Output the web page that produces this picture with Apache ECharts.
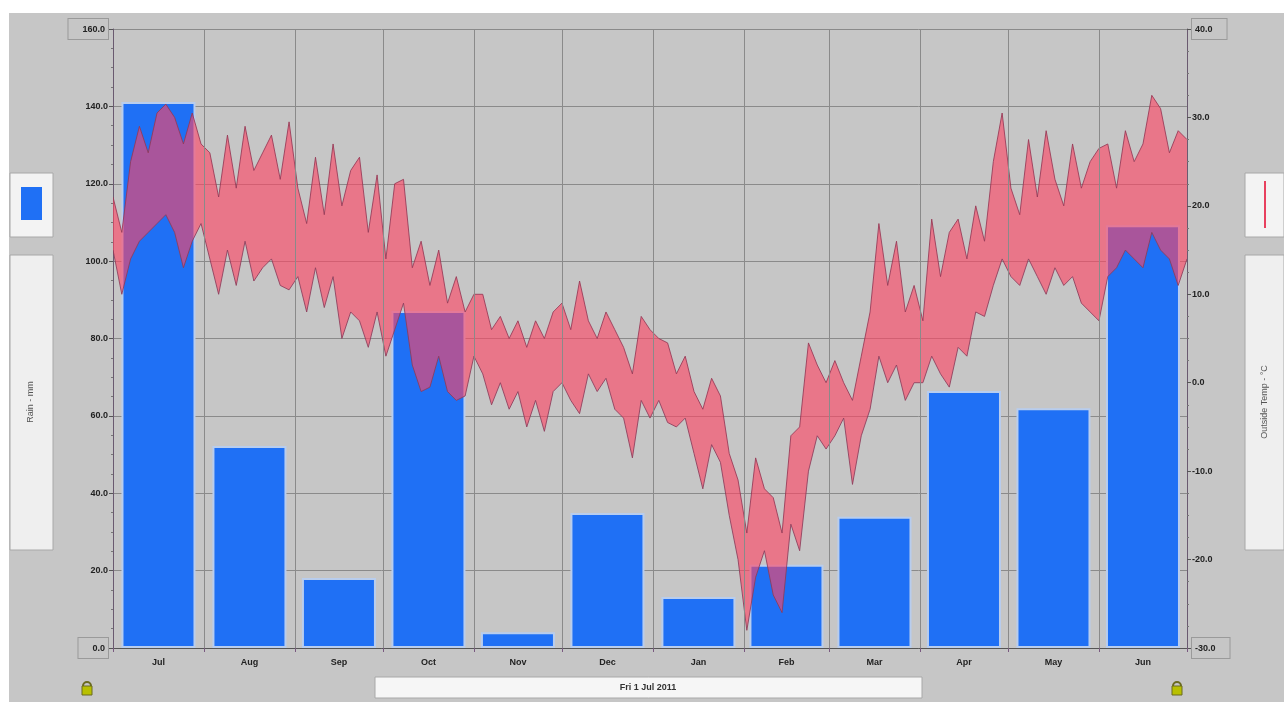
<!DOCTYPE html>
<html>
<head>
<meta charset="utf-8">
<title>Rain and Outside Temperature</title>
<script src="https://cdn.jsdelivr.net/npm/echarts@6/dist/echarts.min.js"></script>
<style>
  html, body { margin: 0; padding: 0; background: #ffffff; }
  #chart { width: 1284px; height: 702px; }
</style>
</head>
<body>
<div id="chart"></div>
<script>
// Months of the season, July 2011 to June 2012
const months = ['Jul', 'Aug', 'Sep', 'Oct', 'Nov', 'Dec', 'Jan', 'Feb', 'Mar', 'Apr', 'May', 'Jun'];
const daysInMonth = [31, 31, 30, 31, 30, 31, 31, 29, 31, 30, 31, 30];

// Monthly rainfall (mm)
const rainMm = [141.1, 52.2, 18.1, 87.1, 4.1, 34.9, 13.2, 21.5, 33.9, 66.4, 62.0, 109.3];

// Outside temperature envelope (°C), one sample every 3 days from 1 Jul
const sampleStep = 3;
const tempHigh = [
  21, 17, 25, 29, 26, 30.5, 31.5, 30, 27, 30.5, 27,
  26, 21, 28, 22, 29, 24, 26, 28, 23, 29.5,
  22, 18, 25.5, 19, 27, 20, 24, 25.5, 17, 23.5,
  14, 22.5, 23, 13, 16, 11, 15, 9, 12, 8,
  10, 10, 6, 7.5, 5, 7, 4, 7, 5, 8,
  9, 6, 11.5, 7, 5, 8, 6, 4, 1, 7.5, 6,
  5, 4.5, 1, 3, -1, -3, 0.5, -1.5, -8, -11,
  -17, -8.5, -12, -13, -17, -6, -5, 4.5, 2, 0,
  2.5, 0, -2, 3, 8, 18, 11, 16, 8, 11,
  7, 18.5, 12, 17, 18.5, 14, 20, 16, 25, 30.5,
  22, 19, 27.5, 21, 28.5, 23, 20, 27, 22, 25, 26.5,
  27, 22, 28.5, 25, 27, 32.5, 31, 26, 28.5, 27.5
];
const tempLow = [
  15, 10, 14, 16, 17, 18, 19, 17, 13, 16, 18,
  14, 10, 15, 11, 16, 11.5, 13, 14, 11, 10.5,
  12, 8, 13, 8.5, 12, 5, 8, 7, 4, 8,
  3, 6, 9, 2, -1, -0.5, 3, -1, -2, -1.5,
  3, 1, -2.5, 0, -3, -1, -5, -2, -5.5, -1,
  0, -2, -3.5, 1, -1, 0.5, -3, -4, -8.5, -2, -4,
  -2, -4.5, -5, -4, -8, -12, -7, -9, -15, -20,
  -28, -22, -19, -24, -26, -16, -19, -10, -6, -7.5,
  -6, -4, -11.5, -6, -3, 3, 0, 2, -2, 0,
  0, 3, 1, -0.5, 4, 3, 8, 7.5, 11, 14,
  12, 11, 14, 12, 10, 13, 11, 12, 9, 8, 7,
  12, 13, 15, 14, 13, 17, 15, 14, 11, 14
];

// Day offsets of month starts and month centres
const monthStarts = [0];
daysInMonth.forEach(d => monthStarts.push(monthStarts[monthStarts.length - 1] + d));
const monthMids = daysInMonth.map((d, i) => monthStarts[i] + d / 2);
const totalDays = monthStarts[monthStarts.length - 1];

const rainData = rainMm.map((v, i) => [monthMids[i], v]);
// one row per sample: [day, high, low]
const tempRows = tempHigh.map((v, i) => [i * sampleStep, v, tempLow[i]]);

const labelFont = 'Liberation Sans Narrow, Liberation Sans, Arial, sans-serif';
const boxRich = {
  box: {
    fontFamily: labelFont, fontWeight: 'bold', fontSize: 9, color: '#222',
    borderColor: '#9a9a9a', borderWidth: 1, padding: [6, 3, 5, 14], backgroundColor: '#c6c6c6'
  }
};
const boxRichRight = {
  box: {
    fontFamily: labelFont, fontWeight: 'bold', fontSize: 9, color: '#222',
    borderColor: '#9a9a9a', borderWidth: 1, padding: [6, 14, 5, 3], backgroundColor: '#c6c6c6'
  }
};

// Temperature band: filled polygon between daily highs and lows plus both edges
function renderTempBand(params, api) {
  if (params.dataIndex !== 0) return null;
  const top = tempRows.map(r => api.coord([r[0], r[1]]));
  const bottom = tempRows.map(r => api.coord([r[0], r[2]]));
  const poly = top.concat(bottom.slice().reverse());
  const cs = params.coordSys;
  return {
    type: 'group',
    children: [
      { type: 'polygon', shape: { points: poly }, style: { fill: 'rgba(255,70,100,0.62)', stroke: null } },
      { type: 'polyline', shape: { points: top }, style: { stroke: 'rgba(150,55,85,0.85)', lineWidth: 1, fill: null } },
      { type: 'polyline', shape: { points: bottom }, style: { stroke: 'rgba(140,60,90,0.85)', lineWidth: 1, fill: null } }
    ],
    clipPath: { type: 'rect', shape: { x: cs.x, y: cs.y, width: cs.width, height: cs.height } }
  };
}

const chart = echarts.init(document.getElementById('chart'), null, { renderer: 'canvas' });

const option = {
  backgroundColor: '#c6c6c6',
  animation: false,
  grid: { left: 113, right: 97, top: 29, bottom: 54, containLabel: false },
  xAxis: {
    type: 'value',
    min: 0,
    max: totalDays,
    axisLine: { show: true, lineStyle: { color: '#555', width: 1 } },
    axisTick: { show: true, customValues: monthStarts, length: 4, lineStyle: { color: '#7a5a80' } },
    axisLabel: {
      customValues: monthMids,
      margin: 10,
      fontFamily: labelFont, fontWeight: 'bold', fontSize: 9, color: '#222',
      formatter: v => {
        const i = monthMids.findIndex(m => Math.abs(m - v) < 0.01);
        return i >= 0 ? months[i] : '';
      }
    },
    splitLine: { show: false }
  },
  yAxis: [
    {
      type: 'value',
      min: 0, max: 160, interval: 20,
      position: 'left',
      axisLine: { show: true, lineStyle: { color: '#6a5a70', width: 1 } },
      axisTick: { show: true, length: 4, lineStyle: { color: '#555' } },
      minorTick: { show: true, splitNumber: 4, length: 2, lineStyle: { color: '#777' } },
      axisLabel: {
        margin: 5,
        fontFamily: labelFont, fontWeight: 'bold', fontSize: 9, color: '#222',
        formatter: v => (v === 160 || v === 0) ? '{box|' + v.toFixed(1) + '}' : v.toFixed(1),
        rich: boxRich
      },
      splitLine: { show: true, lineStyle: { color: '#8a8a8a', width: 1 } }
    },
    {
      type: 'value',
      min: -30, max: 40, interval: 10,
      position: 'right',
      axisLine: { show: true, lineStyle: { color: '#6a5a70', width: 1 } },
      axisTick: { show: true, length: 4, lineStyle: { color: '#555' } },
      minorTick: { show: true, splitNumber: 4, length: 2, lineStyle: { color: '#777' } },
      axisLabel: {
        margin: 5,
        fontFamily: labelFont, fontWeight: 'bold', fontSize: 9, color: '#222',
        formatter: v => (v === 40 || v === -30) ? '{box|' + v.toFixed(1) + '}' : v.toFixed(1),
        rich: boxRichRight
      },
      splitLine: { show: false }
    }
  ],
  series: [
    {
      name: 'Rain',
      type: 'bar',
      xAxisIndex: 0, yAxisIndex: 0,
      data: rainData,
      barWidth: 74,
      itemStyle: { color: '#1f70f5', borderColor: '#b8cdee', borderWidth: 2 },
      z: 2,
      markLine: {
        silent: true,
        symbol: 'none',
        label: { show: false },
        lineStyle: { color: '#8a8a8a', width: 1, type: 'solid' },
        data: monthStarts.slice(1, -1).map(d => ({ xAxis: d }))
      }
    },
    {
      name: 'Outside Temp',
      type: 'custom',
      xAxisIndex: 0, yAxisIndex: 1,
      data: tempRows,
      encode: { x: 0, y: [1, 2] },
      renderItem: renderTempBand,
      z: 4
    }
  ],
  graphic: [
    // outer white margins
    { type: 'rect', shape: { x: 0, y: 0, width: 1284, height: 13 }, style: { fill: '#ffffff' }, silent: true },
    { type: 'rect', shape: { x: 0, y: 0, width: 9, height: 702 }, style: { fill: '#ffffff' }, silent: true },
    // left legend swatch and title panel
    { type: 'rect', shape: { x: 10, y: 173, width: 43, height: 64 }, style: { fill: '#f3f3f3', stroke: '#a8a8a8', lineWidth: 1 } },
    { type: 'rect', shape: { x: 21, y: 187, width: 21, height: 33 }, style: { fill: '#1f70f5' } },
    { type: 'rect', shape: { x: 10, y: 255, width: 43, height: 295 }, style: { fill: '#efefef', stroke: '#a8a8a8', lineWidth: 1 } },
    {
      type: 'text', x: 31, y: 402, rotation: Math.PI / 2,
      style: { text: 'Rain - mm', fontSize: 9, fontFamily: 'Liberation Sans, Arial, sans-serif', fill: '#555', align: 'center', verticalAlign: 'middle' }
    },
    // right legend swatch and title panel
    { type: 'rect', shape: { x: 1245, y: 173, width: 39, height: 64 }, style: { fill: '#f3f3f3', stroke: '#a8a8a8', lineWidth: 1 } },
    { type: 'line', shape: { x1: 1265, y1: 181, x2: 1265, y2: 228 }, style: { stroke: '#e8405e', lineWidth: 2 } },
    { type: 'rect', shape: { x: 1245, y: 255, width: 39, height: 295 }, style: { fill: '#efefef', stroke: '#a8a8a8', lineWidth: 1 } },
    {
      type: 'text', x: 1265, y: 402, rotation: Math.PI / 2,
      style: { text: 'Outside Temp - °C', fontSize: 9, fontFamily: 'Liberation Sans, Arial, sans-serif', fill: '#555', align: 'center', verticalAlign: 'middle' }
    },
    // date box under the axis
    { type: 'rect', shape: { x: 375, y: 677, width: 547, height: 21 }, style: { fill: '#f6f6f6', stroke: '#a8a8a8', lineWidth: 1 } },
    {
      type: 'text', x: 648, y: 688,
      style: { text: 'Fri 1 Jul 2011', fontSize: 9, fontFamily: labelFont, fontWeight: 'bold', fill: '#333', align: 'center', verticalAlign: 'middle' }
    },
    // padlocks
    { type: 'arc', shape: { cx: 87, cy: 686, r: 4, startAngle: Math.PI, endAngle: 0 }, style: { stroke: '#6b6b20', fill: null, lineWidth: 2 } },
    { type: 'rect', shape: { x: 82, y: 686, width: 10, height: 9 }, style: { fill: '#b8c000', stroke: '#6b6b20', lineWidth: 1 } },
    { type: 'arc', shape: { cx: 1177, cy: 686, r: 4, startAngle: Math.PI, endAngle: 0 }, style: { stroke: '#6b6b20', fill: null, lineWidth: 2 } },
    { type: 'rect', shape: { x: 1172, y: 686, width: 10, height: 9 }, style: { fill: '#b8c000', stroke: '#6b6b20', lineWidth: 1 } }
  ]
};

chart.setOption(option);
</script>
</body>
</html>
